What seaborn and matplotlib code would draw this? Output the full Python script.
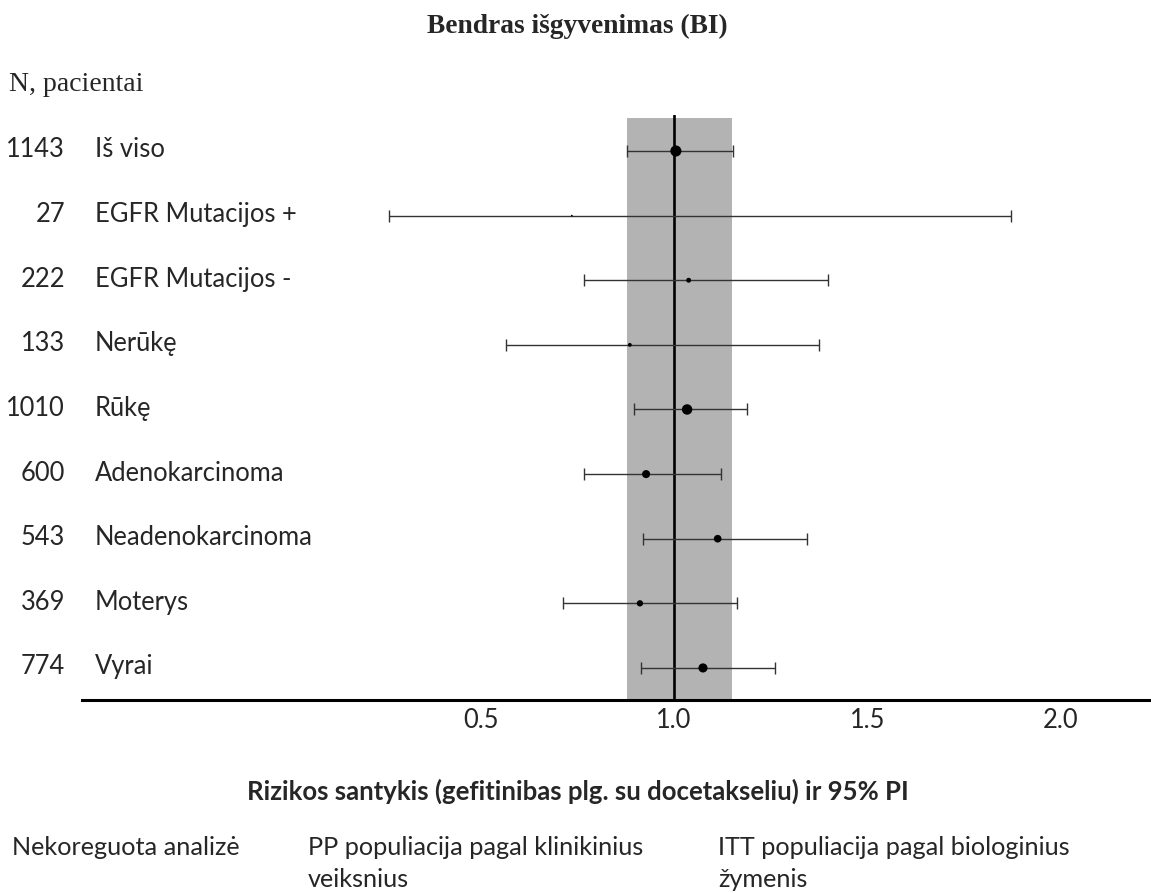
import numpy as np
import pandas as pd
import matplotlib
matplotlib.use('Agg')
import matplotlib.pyplot as plt
import matplotlib.transforms as mtransforms
import seaborn as sns

groups = ['Iš viso', 'EGFR Mutacijos +', 'EGFR Mutacijos -', 'Nerūkę', 'Rūkę',
          'Adenokarcinoma', 'Neadenokarcinoma', 'Moterys', 'Vyrai']
n_patients = [1143, 27, 222, 133, 1010, 600, 543, 369, 774]
hr = [1.005, 0.736, 1.038, 0.886, 1.034, 0.928, 1.113, 0.912, 1.075]
ci_low = [0.879, 0.264, 0.767, 0.566, 0.897, 0.767, 0.920, 0.713, 0.915]
ci_high = [1.152, 1.87, 1.397, 1.375, 1.190, 1.121, 1.345, 1.163, 1.261]
band = (0.879, 1.150)
ticks = [0.5, 1.0, 1.5, 2.0]

df = pd.DataFrame({'group': groups, 'n': n_patients, 'hr': hr,
                   'lo': ci_low, 'hi': ci_high})
df['row'] = np.arange(len(df))

sns.set_style('white')
plt.rcParams['font.family'] = ['Lato', 'DejaVu Sans']

W, H = 1151, 893
fig = plt.figure(figsize=(W / 100, H / 100), dpi=100)
ax = fig.add_axes([82 / W, 1 - 700 / H, (W - 82) / W, (700 - 115) / H])
renderer = fig.canvas.get_renderer()


def fit(t, width_px):
    # scale font so the text spans the measured width
    w = t.get_window_extent(renderer).width
    t.set_fontsize(t.get_fontsize() * width_px / w)
    return t.get_fontsize()


ax.axvspan(band[0], band[1], ymin=0, ymax=(700 - 118) / (700 - 115),
           color='#b3b3b3', lw=0, zorder=0)
ax.axvline(1.0, color='black', lw=1.9, zorder=1)

ax.errorbar(df['hr'], df['row'], xerr=[df['hr'] - df['lo'], df['hi'] - df['hr']],
            fmt='none', ecolor='#333333', elinewidth=1.0, capsize=4.5, capthick=1.0,
            zorder=2)
sns.scatterplot(data=df, x='hr', y='row', size='n', sizes=(1.6, 64),
                size_norm=(27, 1143), color='black', edgecolor='none',
                legend=False, ax=ax, zorder=3)

ax.set_xlim(-0.530, 2.233)
ax.set_ylim(8.496, -0.557)
ax.set_yticks([])
for s in ['top', 'left', 'right']:
    ax.spines[s].set_visible(False)
ax.spines['bottom'].set_linewidth(2.2)
ax.spines['bottom'].set_color('black')
ax.set_xlabel('')
ax.set_ylabel('')

trans = mtransforms.blended_transform_factory(fig.transFigure, ax.transData)
probe = ax.text(95 / W, 6 + 0.1, 'Neadenokarcinoma', transform=trans, fontsize=15)
fs = fit(probe, 218)
probe.remove()

for _, r in df.iterrows():
    ax.text(65 / W, r['row'] + 0.1, str(r['n']), transform=trans, ha='right',
            va='baseline', fontsize=fs)
    ax.text(95 / W, r['row'] + 0.1, r['group'], transform=trans, ha='left',
            va='baseline', fontsize=fs)

ax.set_xticks(ticks)
ax.set_xticklabels([f'{t:.1f}' for t in ticks], fontsize=fs)
ax.tick_params(axis='x', length=0, pad=6)

title = fig.text(577 / W, 1 - 33 / H, 'Bendras išgyvenimas (BI)', ha='center',
                 va='baseline', fontsize=18, fontweight='bold', family='Liberation Serif')
fit(title, 301)
npat = fig.text(9 / W, 1 - 91 / H, 'N, pacientai', ha='left', va='baseline',
                fontsize=18, family='Liberation Serif')
fit(npat, 134)

xlab = fig.text(578 / W, 1 - 800 / H,
                'Rizikos santykis (gefitinibas plg. su docetakseliu) ir 95% PI',
                ha='center', va='baseline', fontsize=18, fontweight='bold')
fit(xlab, 662)

bfs = fit(fig.text(12 / W, 1 - 855 / H, 'Nekoreguota analizė', ha='left',
                   va='baseline', fontsize=18), 228)
fig.text(308 / W, 1 - 855 / H, 'PP populiacija pagal klinikinius', ha='left',
         va='baseline', fontsize=bfs)
fig.text(308 / W, 1 - 887 / H, 'veiksnius', ha='left', va='baseline', fontsize=bfs)
fig.text(718 / W, 1 - 855 / H, 'ITT populiacija pagal biologinius', ha='left',
         va='baseline', fontsize=bfs)
fig.text(718 / W, 1 - 887 / H, 'žymenis', ha='left', va='baseline', fontsize=bfs)

fig.savefig('out.png', dpi=100)
